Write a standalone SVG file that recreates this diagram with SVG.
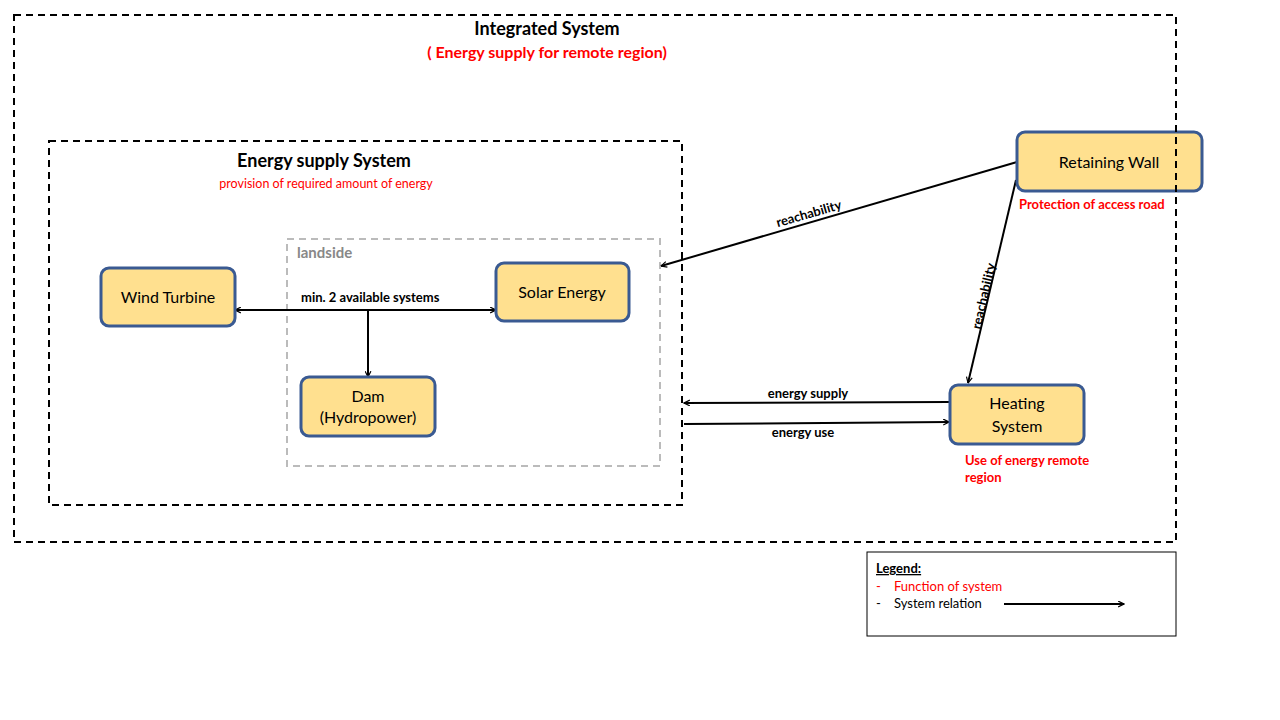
<svg xmlns="http://www.w3.org/2000/svg" width="1280" height="720" viewBox="0 0 1280 720">
<style>
text{font-family:Lato,"Open Sans","Liberation Sans",sans-serif}
.node{fill:#ffe08f;stroke:#3a5a92;stroke-width:3}
.nt{font-size:16px;fill:#000;text-anchor:middle}
.lbl{font-size:13px;font-weight:bold;fill:#000}
.red{fill:#ff0000}
.conn{stroke:#000;stroke-width:2;fill:none;marker-end:url(#ah)}
</style>
<defs>
<marker id="ah" viewBox="0 0 12 12" refX="11" refY="6" markerWidth="7" markerHeight="7" markerUnits="userSpaceOnUse" orient="auto"><path d="M1,1 L11,6 L1,11" fill="none" stroke="#000" stroke-width="2"/></marker>
</defs>
<rect width="1280" height="720" fill="#fff"/>
<g id="energy-supply-system">
<rect x="49" y="141" width="633" height="364" fill="none" stroke="#000" stroke-width="2" stroke-dasharray="7,5"/>
<text x="324" y="167" font-size="18" font-weight="bold" text-anchor="middle">Energy supply System</text>
<text x="326" y="188" font-size="12.5" class="red" text-anchor="middle">provision of required amount of energy</text>
</g>
<g id="landside">
<rect x="287" y="239" width="373" height="227" fill="none" stroke="#bbb" stroke-width="2" stroke-dasharray="7,5"/>
<text x="297" y="258" font-size="15" font-weight="bold" fill="#888">landside</text>
</g>
<g id="connectors">
<line x1="338" y1="310" x2="235" y2="310" class="conn"/>
<line x1="338" y1="310" x2="496" y2="310" class="conn"/>
<line x1="368" y1="310" x2="368" y2="377" class="conn"/>
<line x1="1017" y1="162" x2="661" y2="266" class="conn"/>
<line x1="1016" y1="180" x2="968" y2="383" class="conn"/>
<line x1="949" y1="402" x2="684" y2="403" class="conn"/>
<line x1="684" y1="424" x2="949" y2="422" class="conn"/>
<text x="301" y="302" class="lbl">min. 2 available systems</text>
<text x="810" y="218" class="lbl" text-anchor="middle" transform="rotate(-16 810 218)">reachability</text>
<text x="988" y="297" class="lbl" text-anchor="middle" transform="rotate(-77 988 297)">reachability</text>
<text x="808" y="398" class="lbl" text-anchor="middle">energy supply</text>
<text x="803" y="437" class="lbl" text-anchor="middle">energy use</text>
</g>
<g id="wind-turbine"><rect x="101" y="268" width="134" height="58" rx="8" class="node"/><text x="168" y="303" class="nt">Wind Turbine</text></g>
<g id="solar-energy"><rect x="496" y="263" width="133" height="58" rx="8" class="node"/><text x="562" y="298" class="nt">Solar Energy</text></g>
<g id="dam"><rect x="301" y="377" width="134" height="59" rx="8" class="node"/><text x="368" y="402" class="nt">Dam</text><text x="368" y="423" class="nt">(Hydropower)</text></g>
<g id="retaining-wall"><rect x="1017" y="132" width="185" height="59" rx="8" class="node"/><text x="1109" y="168" class="nt">Retaining Wall</text>
<text x="1019" y="209" font-size="13" font-weight="bold" class="red">Protection of access road</text></g>
<g id="heating-system"><rect x="950" y="385" width="134" height="59" rx="8" class="node"/><text x="1017" y="409" class="nt">Heating</text><text x="1017" y="432" class="nt">System</text>
<text x="965" y="465" font-size="13" font-weight="bold" class="red">Use of energy remote</text>
<text x="965" y="482" font-size="13" font-weight="bold" class="red">region</text></g>
<g id="integrated-system">
<rect x="14" y="15" width="1162" height="527" fill="none" stroke="#000" stroke-width="2" stroke-dasharray="7,5"/>
<text x="547" y="35" font-size="18" font-weight="bold" text-anchor="middle">Integrated System</text>
<text x="547" y="58" font-size="16" font-weight="bold" class="red" text-anchor="middle">( Energy supply for remote region)</text>
</g>
<g id="legend">
<rect x="867" y="552" width="309" height="84" fill="#fff" stroke="#000" stroke-width="1"/>
<text x="876" y="573" font-size="13" font-weight="bold" text-decoration="underline">Legend:</text>
<text x="876" y="591" font-size="13" class="red">-</text><text x="894" y="591" font-size="13" class="red">Function of system</text>
<text x="876" y="608" font-size="13">-</text><text x="894" y="608" font-size="13">System relation</text>
<line x1="1004" y1="604" x2="1124" y2="604" class="conn"/>
</g>
</svg>
